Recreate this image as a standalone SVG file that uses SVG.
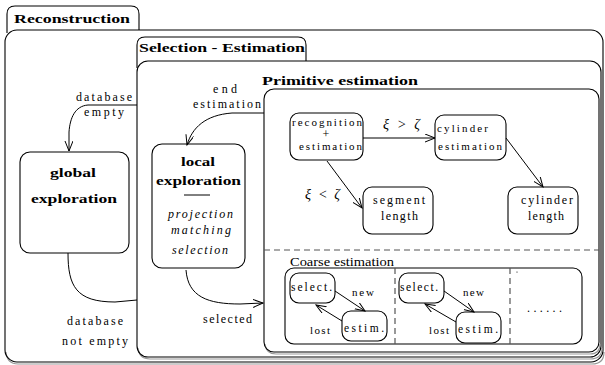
<svg xmlns="http://www.w3.org/2000/svg" width="605" height="365" viewBox="0 0 605 365">
<defs>
<marker id="arr" markerUnits="userSpaceOnUse" markerWidth="12" markerHeight="10" refX="10" refY="4" orient="auto">
<path d="M0,0 L10,4 L0,8" fill="none" stroke="#000" stroke-width="1"/>
</marker>
<style>
text{font-family:"Liberation Serif","Times New Roman",serif;fill:#000}
.b{font-weight:bold}
.i{font-style:italic}
.box{fill:#fff;stroke:#000;stroke-width:1.1}
.frame{fill:none;stroke:#000;stroke-width:1.1}
.shadow{fill:none;stroke:#999;stroke-width:1.2}
.con{fill:none;stroke:#000;stroke-width:1}
.dash{fill:none;stroke:#555;stroke-width:1.2;stroke-dasharray:6,4}
</style>
</defs>
<rect width="605" height="365" fill="#fff"/>

<g id="reconstruction">
<path class="shadow" d="M6,352 Q7,364 18,364 L592,364 Q604,364 604,352"/>
<path class="frame" d="M7,33 L7,14 Q7,6 15,6 L131,6 Q139,6 139,14 L139,30"/>
<rect class="frame" x="5" y="30" width="598" height="332" rx="12"/>
<text class="b" x="14" y="23" font-size="13.5" textLength="116" lengthAdjust="spacingAndGlyphs">Reconstruction</text>
</g>

<g id="selection-estimation">
<path class="shadow" d="M138,348 Q139,359 150,359 L590,359 Q602,359 602,348"/>
<path class="frame" d="M137,68 L137,45 Q137,37 145,37 L298,37 Q306,37 306,45 L306,61"/>
<rect class="frame" x="137" y="61" width="464" height="296" rx="11"/>
<text class="b" x="139" y="52" font-size="13" textLength="166" lengthAdjust="spacingAndGlyphs">Selection - Estimation</text>
</g>

<g id="primitive-estimation">
<path class="shadow" d="M265,344 Q266,354 276,354 L590,354 Q600,354 600,344"/>
<rect class="frame" x="264" y="89" width="335" height="263" rx="10"/>
<text class="b" x="262" y="85" font-size="13.5" textLength="156" lengthAdjust="spacingAndGlyphs">Primitive estimation</text>
<line class="dash" x1="264" y1="250" x2="599" y2="250"/>
</g>

<g id="coarse-estimation">
<rect class="frame" x="285" y="268" width="297" height="76" rx="9"/>
<text x="290" y="266" font-size="11.5" textLength="104" lengthAdjust="spacingAndGlyphs">Coarse estimation</text>
<line class="dash" x1="395" y1="268" x2="395" y2="344"/>
<line class="dash" x1="510" y1="268" x2="510" y2="344"/>
<circle cx="517" cy="272" r="0.6" fill="#000"/>
<text x="527" y="312" font-size="12" textLength="35" lengthAdjust="spacing">......</text>
</g>

<g id="global-exploration">
<rect class="box" x="20" y="152" width="109" height="101" rx="10"/>
<text class="b" x="50" y="177" font-size="13" textLength="46" lengthAdjust="spacingAndGlyphs">global</text>
<text class="b" x="31" y="203" font-size="13" textLength="86" lengthAdjust="spacingAndGlyphs">exploration</text>
</g>

<g id="local-exploration">
<rect class="box" x="152" y="144" width="93" height="124" rx="10"/>
<text class="b" x="181" y="166" font-size="13" textLength="34" lengthAdjust="spacingAndGlyphs">local</text>
<text class="b" x="156" y="185" font-size="13" textLength="85" lengthAdjust="spacingAndGlyphs">exploration</text>
<line x1="184" y1="195" x2="210" y2="195" stroke="#000" stroke-width="1"/>
<text class="i" x="168" y="218" font-size="12" textLength="65" lengthAdjust="spacing">projection</text>
<text class="i" x="171" y="234" font-size="12" textLength="60" lengthAdjust="spacing">matching</text>
<text class="i" x="172" y="254" font-size="12" textLength="56" lengthAdjust="spacing">selection</text>
</g>

<g id="recognition-estimation">
<rect class="box" x="290" y="113" width="73" height="47" rx="9"/>
<text x="292" y="126" font-size="11" textLength="70" lengthAdjust="spacing">recognition</text>
<text x="326" y="138" font-size="12" text-anchor="middle">+</text>
<text x="299" y="150" font-size="11" textLength="63" lengthAdjust="spacing">estimation</text>
</g>

<g id="cylinder-estimation">
<rect class="box" x="435" y="115" width="71" height="45" rx="9"/>
<text x="437" y="132" font-size="11" textLength="51" lengthAdjust="spacing">cylinder</text>
<text x="438" y="150" font-size="11" textLength="64" lengthAdjust="spacing">estimation</text>
</g>

<g id="segment-length">
<rect class="box" x="363" y="187" width="70" height="47" rx="9"/>
<text x="373" y="204" font-size="12" textLength="52" lengthAdjust="spacing">segment</text>
<text x="381" y="220" font-size="12" textLength="37" lengthAdjust="spacing">length</text>
</g>

<g id="cylinder-length">
<rect class="box" x="508" y="187" width="70" height="47" rx="9"/>
<text x="521" y="204" font-size="12" textLength="52" lengthAdjust="spacing">cylinder</text>
<text x="528" y="220" font-size="12" textLength="36" lengthAdjust="spacing">length</text>
</g>

<g id="select-1">
<rect class="box" x="290" y="273" width="45" height="30" rx="9"/>
<text x="291" y="291" font-size="11.5" textLength="41" lengthAdjust="spacing">select.</text>
</g>
<g id="estim-1">
<rect class="box" x="342" y="311" width="45" height="30" rx="9"/>
<text x="344" y="332" font-size="11.5" textLength="40" lengthAdjust="spacing">estim.</text>
</g>
<g id="select-2">
<rect class="box" x="399" y="273" width="45" height="30" rx="9"/>
<text x="400" y="291" font-size="11.5" textLength="38" lengthAdjust="spacing">select.</text>
</g>
<g id="estim-2">
<rect class="box" x="456" y="312" width="45" height="31" rx="9"/>
<text x="458" y="333" font-size="11.5" textLength="40" lengthAdjust="spacing">estim.</text>
</g>

<g id="connectors">
<path class="con" d="M137,105 L88,105 C75,106 70,118 69,132 L69,151" marker-end="url(#arr)"/>
<path class="con" d="M68,253 C68,286 76,302 115,302 L137,300"/>
<path class="con" d="M264,113 L232,113 C205,115 192,128 187,145" marker-end="url(#arr)"/>
<path class="con" d="M186,270 C188,297 208,304 240,304 L263,303" marker-end="url(#arr)"/>
<path class="con" d="M363,138 L435,138" marker-end="url(#arr)"/>
<path class="con" d="M327,161 L362,208" marker-end="url(#arr)"/>
<path class="con" d="M506,138 L543,187" marker-end="url(#arr)"/>
<path class="con" d="M335,291 L365,311" marker-end="url(#arr)"/>
<path class="con" d="M342,321 L316,305" marker-end="url(#arr)"/>
<path class="con" d="M444,291 L474,312" marker-end="url(#arr)"/>
<path class="con" d="M456,322 L425,304" marker-end="url(#arr)"/>
<text x="76" y="101" font-size="12" textLength="56" lengthAdjust="spacing">database</text>
<text x="84" y="116" font-size="12" textLength="40" lengthAdjust="spacing">empty</text>
<text x="67" y="325" font-size="12" textLength="56" lengthAdjust="spacing">database</text>
<text x="62" y="345" font-size="12" textLength="66" lengthAdjust="spacing">not empty</text>
<text x="213" y="93" font-size="12" textLength="24" lengthAdjust="spacing">end</text>
<text x="193" y="108" font-size="12" textLength="68" lengthAdjust="spacing">estimation</text>
<text x="203" y="323" font-size="12" textLength="49" lengthAdjust="spacing">selected</text>
<text class="i" x="383" y="129" font-size="14" textLength="37" lengthAdjust="spacing">ξ &gt; ζ</text>
<text class="i" x="305" y="199" font-size="14" textLength="35" lengthAdjust="spacing">ξ &lt; ζ</text>
<text x="352" y="296" font-size="11" textLength="22" lengthAdjust="spacing">new</text>
<text x="310" y="334" font-size="11" textLength="20" lengthAdjust="spacing">lost</text>
<text x="463" y="296" font-size="11" textLength="21" lengthAdjust="spacing">new</text>
<text x="429" y="334" font-size="11" textLength="20" lengthAdjust="spacing">lost</text>
</g>
</svg>
